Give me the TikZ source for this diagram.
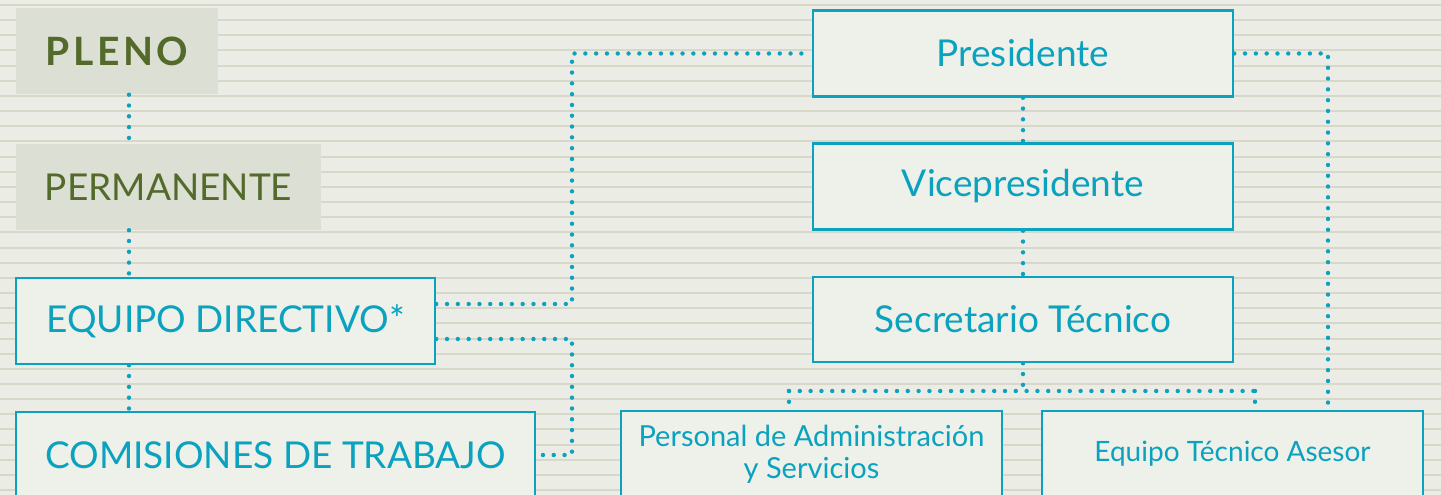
\documentclass[tikz,border=0pt]{standalone}
\usepackage{fontspec}
\setmainfont{Lato}
\definecolor{azul}{HTML}{0AA2BE}
\definecolor{verde}{HTML}{536A2B}
\definecolor{fondo}{HTML}{EBECE5}
\definecolor{raya}{HTML}{D7D8CA}
\definecolor{cajabg}{HTML}{EEF0EA}
\definecolor{verdebg}{HTML}{DCDFD3}

\begin{document}
\begin{tikzpicture}[x=1pt, y=-1pt,
  box/.style={draw=azul, line width=2.5pt, fill=cajabg, text=azul, inner sep=0pt,
    minimum height=86pt, font=\fontsize{37}{40}\selectfont},
  small/.style={font=\fontsize{29}{32}\selectfont, align=center},
  gbox/.style={fill=verdebg, text=verde, inner sep=0pt, minimum height=86pt,
    font=\fontsize{37}{40}\selectfont},
  dots/.style={draw=azul, line width=4.4pt, line cap=round, dash pattern=on 0pt off 10.8pt}]
 \useasboundingbox (0,0) rectangle (1441,495);
 \fill[fondo] (0,0) rectangle (1441,495);
 \clip (0,0) rectangle (1441,495);
 \foreach \i in {0,...,32}
   \draw[raya, line width=2pt] (0,{5+15.16*\i}) -- (1441,{5+15.16*\i});

 \node (pleno) [gbox, minimum width=202pt, font=\fontsize{39}{40}\selectfont] at (117,51.5)
   {\textbf{P\kern3.5pt L\kern3.5pt E\kern3.5pt N\kern3.5pt O}};
 \node (perm) [gbox, minimum width=305pt] at (168.5,187) {PERMANENTE};
 \node (equipo) [box, minimum width=419pt] at (225.5,321) {EQUIPO DIRECTIVO*};
 \node (comis) [box, minimum width=519pt] at (275.5,455) {COMISIONES DE TRABAJO};

 \node (pres) [box, minimum width=420pt] at (1023,53.5) {Presidente};
 \node (vice) [box, minimum width=420pt] at (1023,186.5) {Vicepresidente};
 \node (secr) [box, minimum width=420pt, minimum height=85pt] at (1023,319.5) {Secretario Técnico};
 \node (pas) [box, small, minimum width=381pt] at (811.5,454) {Personal de Administración\\y Servicios};
 \node (eta) [box, small, font=\fontsize{28}{32}\selectfont, minimum width=381pt] at (1232.5,454) {Equipo Técnico Asesor};

 \coordinate (ejei) at (129,0);
 \coordinate (ejem) at (572,0);
 \coordinate (ejed) at (1328,0);
 \coordinate (bi) at (789,391);
 \coordinate (bd) at (1255,391);

 \draw[dots] (pleno.south -| ejei) -- (perm.north -| ejei);
 \draw[dots] (perm.south -| ejei) -- (equipo.north -| ejei);
 \draw[dots] (equipo.south -| ejei) -- (comis.north -| ejei);
 \draw[dots] ([yshift=17pt]equipo.east) -| (ejem |- pres.west) -- (pres.west);
 \draw[dots] ([yshift=-18pt]equipo.east) -| (ejem |- comis.east) -- (comis.east);
 \draw[dots] (pres.east) -| (ejed |- eta.north);
 \draw[dots] (pres.south) -- (vice.north);
 \draw[dots] (vice.south) -- (secr.north);
 \draw[dots] (secr.south) -- (secr.south |- bi);
 \draw[dots] (bi) -- (bd);
 \draw[dots] (bi) -- (bi |- pas.north);
 \draw[dots] (bd) -- (bd |- eta.north);
\end{tikzpicture}
\end{document}
